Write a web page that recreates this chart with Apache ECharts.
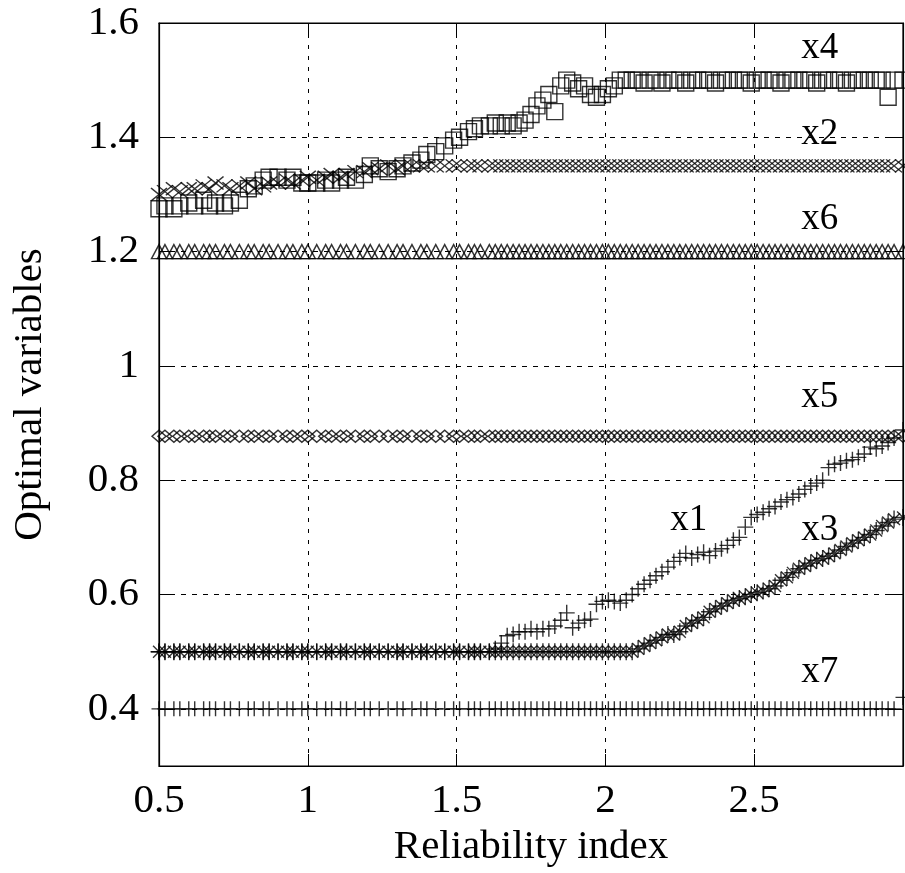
<!DOCTYPE html>
<html>
<head>
<meta charset="utf-8">
<script src="https://cdn.jsdelivr.net/npm/echarts@6/dist/echarts.min.js"></script>
<style>
  html, body { margin: 0; padding: 0; background: #fff; }
  #chart { width: 905px; height: 873px; }
</style>
</head>
<body>
<div id="chart"></div>
<script>
'use strict';

// Reliability index samples (shared by all variables)
const xs = [
  0.50, 0.52, 0.55, 0.57, 0.60, 0.62, 0.65, 0.67, 0.69, 0.72,
  0.74, 0.77, 0.80, 0.82, 0.85, 0.87, 0.90, 0.93, 0.95, 0.98,
  1.00, 1.03, 1.06, 1.08, 1.11, 1.13, 1.16, 1.19, 1.21, 1.24,
  1.27, 1.30, 1.32, 1.35, 1.38, 1.40, 1.43, 1.46, 1.49, 1.51,
  1.54, 1.56, 1.58, 1.61, 1.63, 1.65, 1.67, 1.69, 1.71, 1.73,
  1.75, 1.77, 1.79, 1.81, 1.83, 1.85, 1.87, 1.89, 1.91, 1.93,
  1.95, 1.97, 1.99, 2.01, 2.03, 2.05, 2.07, 2.09, 2.11, 2.13,
  2.15, 2.17, 2.19, 2.21, 2.23, 2.25, 2.27, 2.29, 2.31, 2.33,
  2.35, 2.37, 2.39, 2.41, 2.43, 2.45, 2.47, 2.49, 2.51, 2.53,
  2.55, 2.57, 2.59, 2.61, 2.63, 2.65, 2.67, 2.69, 2.71, 2.73,
  2.75, 2.77, 2.79, 2.81, 2.83, 2.85, 2.87, 2.89, 2.91, 2.93,
  2.95, 2.97, 3.00
];

const x1 = [
  0.5, 0.5, 0.5, 0.5, 0.5, 0.5, 0.5, 0.5, 0.5, 0.5,
  0.5, 0.5, 0.5, 0.5, 0.5, 0.5, 0.5, 0.5, 0.5, 0.5,
  0.5, 0.5, 0.5, 0.5, 0.5, 0.5, 0.5, 0.5, 0.5, 0.5,
  0.5, 0.5, 0.5, 0.5, 0.5, 0.5, 0.5, 0.5, 0.5, 0.5,
  0.5, 0.5, 0.5, 0.5, 0.505, 0.515, 0.528, 0.53, 0.535, 0.535,
  0.54, 0.535, 0.54, 0.54, 0.545, 0.555, 0.568, 0.542, 0.55, 0.555,
  0.557, 0.583, 0.588, 0.59, 0.588, 0.585, 0.59, 0.60, 0.61, 0.618,
  0.625, 0.633, 0.64, 0.648, 0.658, 0.665, 0.672, 0.664, 0.67, 0.674,
  0.668, 0.676, 0.68, 0.686, 0.695, 0.70, 0.718, 0.735, 0.74, 0.744,
  0.75, 0.754, 0.762, 0.766, 0.77, 0.776, 0.784, 0.79, 0.795, 0.80,
  0.822, 0.828, 0.83, 0.834, 0.836, 0.84, 0.846, 0.858, 0.855, 0.86,
  0.866, 0.874, 0.888
];

const x2 = [
  1.30, 1.305, 1.31, 1.305, 1.31, 1.31, 1.315, 1.31, 1.32, 1.315,
  1.31, 1.315, 1.32, 1.31, 1.315, 1.32, 1.32, 1.325, 1.32, 1.325,
  1.33, 1.325, 1.33, 1.335, 1.33, 1.335, 1.34, 1.34, 1.345, 1.345,
  1.35, 1.345, 1.35, 1.35, 1.35, 1.35, 1.35, 1.35, 1.35, 1.35,
  1.35, 1.35, 1.35, 1.35, 1.35, 1.35, 1.35, 1.35, 1.35, 1.35,
  1.35, 1.35, 1.35, 1.35, 1.35, 1.35, 1.35, 1.35, 1.35, 1.35,
  1.35, 1.35, 1.35, 1.35, 1.35, 1.35, 1.35, 1.35, 1.35, 1.35,
  1.35, 1.35, 1.35, 1.35, 1.35, 1.35, 1.35, 1.35, 1.35, 1.35,
  1.35, 1.35, 1.35, 1.35, 1.35, 1.35, 1.35, 1.35, 1.35, 1.35,
  1.35, 1.35, 1.35, 1.35, 1.35, 1.35, 1.35, 1.35, 1.35, 1.35,
  1.35, 1.35, 1.35, 1.35, 1.35, 1.35, 1.35, 1.35, 1.35, 1.35,
  1.35, 1.35, 1.35
];

const x3 = [
  0.5, 0.5, 0.5, 0.5, 0.5, 0.5, 0.5, 0.5, 0.5, 0.5,
  0.5, 0.5, 0.5, 0.5, 0.5, 0.5, 0.5, 0.5, 0.5, 0.5,
  0.5, 0.5, 0.5, 0.5, 0.5, 0.5, 0.5, 0.5, 0.5, 0.5,
  0.5, 0.5, 0.5, 0.5, 0.5, 0.5, 0.5, 0.5, 0.5, 0.5,
  0.5, 0.5, 0.5, 0.5, 0.5, 0.5, 0.5, 0.5, 0.5, 0.5,
  0.5, 0.5, 0.5, 0.5, 0.5, 0.5, 0.5, 0.5, 0.5, 0.5,
  0.5, 0.5, 0.5, 0.5, 0.5, 0.5, 0.5, 0.5, 0.505, 0.51,
  0.515, 0.52, 0.525, 0.53, 0.53, 0.535, 0.545, 0.55, 0.555, 0.56,
  0.57, 0.575, 0.58, 0.585, 0.59, 0.593, 0.596, 0.60, 0.603, 0.606,
  0.61, 0.615, 0.625, 0.63, 0.638, 0.645, 0.65, 0.655, 0.66, 0.663,
  0.667, 0.672, 0.678, 0.684, 0.69, 0.695, 0.70, 0.705, 0.712, 0.72,
  0.726, 0.732, 0.735
];

const x4 = [
  1.275, 1.28, 1.275, 1.28, 1.285, 1.28, 1.29, 1.28, 1.285, 1.28,
  1.285, 1.29, 1.31, 1.315, 1.325, 1.33, 1.33, 1.325, 1.33, 1.32,
  1.32, 1.32, 1.325, 1.32, 1.325, 1.33, 1.325, 1.335, 1.35, 1.345,
  1.34, 1.345, 1.35, 1.355, 1.36, 1.37, 1.375, 1.385, 1.395, 1.40,
  1.41, 1.415, 1.42, 1.42, 1.425, 1.42, 1.425, 1.42, 1.425, 1.43,
  1.44, 1.455, 1.465, 1.475, 1.445, 1.49, 1.50, 1.495, 1.485, 1.49,
  1.475, 1.47, 1.475, 1.485, 1.49, 1.50, 1.50, 1.50, 1.50, 1.495,
  1.5, 1.5, 1.495, 1.5, 1.5, 1.5, 1.495, 1.5, 1.5, 1.5,
  1.5, 1.495, 1.5, 1.5, 1.5, 1.5, 1.5, 1.495, 1.5, 1.5,
  1.5, 1.5, 1.495, 1.5, 1.5, 1.5, 1.5, 1.5, 1.495, 1.5,
  1.5, 1.5, 1.5, 1.495, 1.5, 1.5, 1.5, 1.5, 1.5, 1.5,
  1.47, 1.5, 1.5
];

const x5 = [
  0.877, 0.877, 0.877, 0.877, 0.877, 0.877, 0.877, 0.877, 0.877, 0.877,
  0.877, 0.877, 0.877, 0.877, 0.877, 0.877, 0.877, 0.877, 0.877, 0.877,
  0.877, 0.877, 0.877, 0.877, 0.877, 0.877, 0.877, 0.877, 0.877, 0.877,
  0.877, 0.877, 0.877, 0.877, 0.877, 0.877, 0.877, 0.877, 0.877, 0.877,
  0.877, 0.877, 0.877, 0.877, 0.877, 0.877, 0.877, 0.877, 0.877, 0.877,
  0.877, 0.877, 0.877, 0.877, 0.877, 0.877, 0.877, 0.877, 0.877, 0.877,
  0.877, 0.877, 0.877, 0.877, 0.877, 0.877, 0.877, 0.877, 0.877, 0.877,
  0.877, 0.877, 0.877, 0.877, 0.877, 0.877, 0.877, 0.877, 0.877, 0.877,
  0.877, 0.877, 0.877, 0.877, 0.877, 0.877, 0.877, 0.877, 0.877, 0.877,
  0.877, 0.877, 0.877, 0.877, 0.877, 0.877, 0.877, 0.877, 0.877, 0.877,
  0.877, 0.877, 0.877, 0.877, 0.877, 0.877, 0.877, 0.877, 0.877, 0.877,
  0.877, 0.877, 0.877
];

const x6 = [
  1.2, 1.2, 1.2, 1.2, 1.2, 1.2, 1.2, 1.2, 1.2, 1.2,
  1.2, 1.2, 1.2, 1.2, 1.2, 1.2, 1.2, 1.2, 1.2, 1.2,
  1.2, 1.2, 1.2, 1.2, 1.2, 1.2, 1.2, 1.2, 1.2, 1.2,
  1.2, 1.2, 1.2, 1.2, 1.2, 1.2, 1.2, 1.2, 1.2, 1.2,
  1.2, 1.2, 1.2, 1.2, 1.2, 1.2, 1.2, 1.2, 1.2, 1.2,
  1.2, 1.2, 1.2, 1.2, 1.2, 1.2, 1.2, 1.2, 1.2, 1.2,
  1.2, 1.2, 1.2, 1.2, 1.2, 1.2, 1.2, 1.2, 1.2, 1.2,
  1.2, 1.2, 1.2, 1.2, 1.2, 1.2, 1.2, 1.2, 1.2, 1.2,
  1.2, 1.2, 1.2, 1.2, 1.2, 1.2, 1.2, 1.2, 1.2, 1.2,
  1.2, 1.2, 1.2, 1.2, 1.2, 1.2, 1.2, 1.2, 1.2, 1.2,
  1.2, 1.2, 1.2, 1.2, 1.2, 1.2, 1.2, 1.2, 1.2, 1.2,
  1.2, 1.2, 1.2
];

const x7 = [
  0.4, 0.4, 0.4, 0.4, 0.4, 0.4, 0.4, 0.4, 0.4, 0.4,
  0.4, 0.4, 0.4, 0.4, 0.4, 0.4, 0.4, 0.4, 0.4, 0.4,
  0.4, 0.4, 0.4, 0.4, 0.4, 0.4, 0.4, 0.4, 0.4, 0.4,
  0.4, 0.4, 0.4, 0.4, 0.4, 0.4, 0.4, 0.4, 0.4, 0.4,
  0.4, 0.4, 0.4, 0.4, 0.4, 0.4, 0.4, 0.4, 0.4, 0.4,
  0.4, 0.4, 0.4, 0.4, 0.4, 0.4, 0.4, 0.4, 0.4, 0.4,
  0.4, 0.4, 0.4, 0.4, 0.4, 0.4, 0.4, 0.4, 0.4, 0.4,
  0.4, 0.4, 0.4, 0.4, 0.4, 0.4, 0.4, 0.4, 0.4, 0.4,
  0.4, 0.4, 0.4, 0.4, 0.4, 0.4, 0.4, 0.4, 0.4, 0.4,
  0.4, 0.4, 0.4, 0.4, 0.4, 0.4, 0.4, 0.4, 0.4, 0.4,
  0.4, 0.4, 0.4, 0.4, 0.4, 0.4, 0.4, 0.4, 0.4, 0.4,
  0.4, 0.4, 0.42
];

const yTicks = [0.4, 0.6, 0.8, 1.0, 1.2, 1.4, 1.6];

(function () {
  const FONT = '"Liberation Serif", "DejaVu Serif", serif';
  const chart = echarts.init(document.getElementById('chart'), null, { renderer: 'canvas' });

  const SYM = {
    plus: 'path://M5,0L5,10M0,5L10,5',
    cross: 'path://M0,0L10,10M10,0L0,10',
    star: 'path://M5,0L5,10M0,5L10,5M1.5,1.5L8.5,8.5M8.5,1.5L1.5,8.5',
    square: 'path://M0,0L10,0L10,10L0,10Z',
    triangle: 'path://M5,0L10,9L0,9Z',
    diamond: 'path://M5,0L10,5L5,10L0,5Z'
  };

  function pairs(ys) {
    return xs.map(function (x, i) { return [x, ys[i]]; });
  }

  function makeSeries(name, ys, symbol, size, labelAt) {
    return {
      name: name,
      type: 'scatter',
      xAxisIndex: 0,
      yAxisIndex: 0,
      data: pairs(ys),
      symbol: symbol,
      symbolSize: size,
      itemStyle: { color: 'rgba(0,0,0,0)', borderColor: '#000', borderWidth: 1.4 },
      emphasis: { disabled: true },
      markPoint: {
        symbol: 'circle',
        symbolSize: 0,
        silent: true,
        label: {
          show: true,
          position: 'inside',
          formatter: name,
          color: '#000',
          fontFamily: FONT,
          fontSize: 37
        },
        data: [{ coord: labelAt }]
      }
    };
  }

  const axisLabelStyle = { color: '#000', fontFamily: FONT, fontSize: 41 };

  const option = {
    backgroundColor: '#fff',
    animation: false,
    grid: {
      left: 159, right: 2, top: 23, bottom: 104,
      show: true, borderColor: '#000', borderWidth: 1.2, backgroundColor: 'transparent'
    },
    xAxis: [
      {
        type: 'value', min: 0.5, max: 3, interval: 0.5,
        name: 'Reliability index', nameLocation: 'middle', nameGap: 61,
        nameTextStyle: axisLabelStyle,
        axisLine: { show: true, lineStyle: { color: '#000', width: 1.2 } },
        axisTick: { show: true, inside: true, length: 12, lineStyle: { color: '#000' } },
        axisLabel: Object.assign({ margin: 15, showMaxLabel: false }, axisLabelStyle),
        splitLine: { show: true, lineStyle: { color: '#000', width: 1, type: [4, 7] } }
      },
      {
        type: 'value', position: 'top', min: 0.5, max: 3, interval: 0.5,
        axisLine: { show: true, lineStyle: { color: '#000', width: 1.2 } },
        axisTick: { show: true, inside: true, length: 12, lineStyle: { color: '#000' } },
        axisLabel: { show: false },
        splitLine: { show: false }
      }
    ],
    yAxis: [
      {
        type: 'value', min: 0.3, max: 1.6, interval: 0.1,
        name: 'Optimal variables', nameLocation: 'middle', nameGap: 108,
        nameTextStyle: axisLabelStyle,
        axisLine: { show: true, lineStyle: { color: '#000', width: 1.2 } },
        axisTick: { show: true, inside: true, length: 14, customValues: yTicks, lineStyle: { color: '#000' } },
        axisLabel: Object.assign({
          margin: 20,
          customValues: yTicks,
          formatter: function (v) { return String(Math.round(v * 10) / 10); }
        }, axisLabelStyle),
        splitLine: { show: true, lineStyle: { color: '#000', width: 1, type: [5, 6] } }
      },
      {
        type: 'value', position: 'right', min: 0.3, max: 1.6, interval: 0.1,
        axisLine: { show: true, lineStyle: { color: '#000', width: 1.2 } },
        axisTick: { show: true, inside: true, length: 14, customValues: yTicks, lineStyle: { color: '#000' } },
        axisLabel: { show: false },
        splitLine: { show: false }
      }
    ],
    series: [
      makeSeries('x7', x7, SYM.plus, 15, [2.72, 0.464]),
      makeSeries('x3', x3, SYM.star, 17, [2.72, 0.713]),
      makeSeries('x1', x1, SYM.plus, 16, [2.28, 0.730]),
      makeSeries('x5', x5, SYM.diamond, [14, 12], [2.72, 0.946]),
      makeSeries('x6', x6, SYM.triangle, [15, 14], [2.72, 1.257]),
      makeSeries('x2', x2, SYM.cross, [16, 13], [2.72, 1.405]),
      makeSeries('x4', x4, SYM.square, 16, [2.72, 1.555])
    ]
  };

  chart.setOption(option);
  window.addEventListener('resize', chart.resize);
})();
</script>
</body>
</html>
